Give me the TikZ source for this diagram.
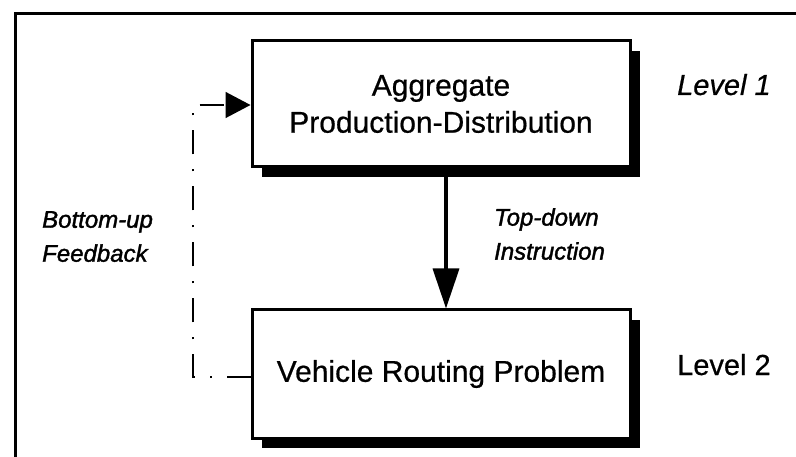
\documentclass[tikz,border=0pt]{standalone}
\usepackage{fontspec}
\setmainfont{Liberation Sans}
\usetikzlibrary{arrows.meta,shadows}
\begin{document}
\begin{tikzpicture}[x=1pt,y=-1pt,
  levelbox/.style={draw=black,line width=3pt,fill=white,minimum width=378pt,align=center,
    inner sep=0pt,font=\fontsize{30}{37}\selectfont\addfontfeatures{FakeBold=0.6},
    drop shadow={shadow xshift=10pt,shadow yshift=-10pt,fill=black,opacity=1}},
  leveltext/.style={anchor=base west,inner sep=0pt,font=\fontsize{29}{34}\selectfont\addfontfeatures{FakeBold=0.6}},
  note/.style={anchor=north west,inner sep=0pt,align=left,font=\fontsize{24}{34}\selectfont\itshape\addfontfeatures{FakeBold=1.6}},
  frameline/.style={line width=3pt}]
\useasboundingbox (0,0) rectangle (796,457);
\draw[frameline] (15,457) -- (15,14) -- (796,14);
\node[levelbox,minimum height=126pt] (agg) at (441,104) {Aggregate\\Production-Distribution};
\node[levelbox,minimum height=128pt] (vrp) at (441,374) {Vehicle Routing Problem};
\node[leveltext,font=\fontsize{29}{34}\selectfont\itshape\addfontfeatures{FakeBold=0.6}] (l1) at (677,95) {Level 1};
\node[leveltext] (l2) at (677,375) {Level 2};
\node[note] (td) at (494,208) {Top-down\\Instruction};
\node[note] (bu) at (42,211) {Bottom-up\\Feedback};
\draw[line width=3.5pt,-{Triangle[length=40pt,width=26pt]}] (446,177) -- (vrp.north -| 446,0);
\coordinate (fbtop) at (193,105);
\coordinate (fbbot) at (193,377);
\draw[line width=1.5pt,dash pattern=on 24pt off 15pt on 2pt off 15pt,-{Triangle[length=25pt,width=26pt]}]
  (vrp.west |- fbbot) -- (fbbot) -- (fbtop) -- (agg.west |- fbtop);
\end{tikzpicture}
\end{document}
